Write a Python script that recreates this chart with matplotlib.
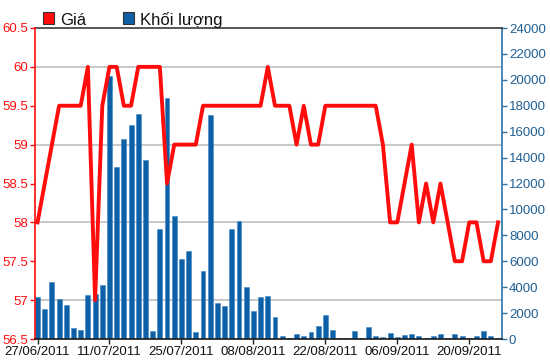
import matplotlib
matplotlib.use("Agg")
import matplotlib.pyplot as plt
from matplotlib.patches import Rectangle
from matplotlib.ticker import MultipleLocator, FixedLocator

# ---- data ----
tick_labels = ["27/06/2011", "11/07/2011", "25/07/2011", "08/08/2011",
               "22/08/2011", "06/09/2011", "20/09/2011"]
tick_index = [0, 10, 20, 30, 40, 50, 60]

price = [58, 58.5, 59, 59.5, 59.5, 59.5, 59.5, 60, 57, 59.5,
         60, 60, 59.5, 59.5, 60, 60, 60, 60, 58.5, 59,
         59, 59, 59, 59.5, 59.5, 59.5, 59.5, 59.5, 59.5, 59.5,
         59.5, 59.5, 60, 59.5, 59.5, 59.5, 59, 59.5, 59, 59,
         59.5, 59.5, 59.5, 59.5, 59.5, 59.5, 59.5, 59.5, 59, 58,
         58, 58.5, 59, 58, 58.5, 58, 58.5, 58, 57.5, 57.5,
         58, 58, 57.5, 57.5, 58]

volume = [3250, 2300, 4400, 3050, 2650, 850, 720, 3420, 3500, 4200,
          20300, 13300, 15400, 16500, 17400, 13800, 650, 8500, 18600, 9500,
          6200, 6800, 570, 5250, 17300, 2750, 2580, 8520, 9100, 4020,
          2180, 3230, 3320, 1710, 270, 100, 350, 270, 530, 1030,
          1890, 710, 100, 90, 640, 90, 930, 260, 170, 450,
          170, 290, 360, 260, 100, 200, 360, 100, 360, 200,
          90, 260, 600, 200, 100]

legend_labels = ["Giá", "Khối lượng"]

# ---- style ----
RED = "#ff0d0d"
BLUE = "#0d5fa6"
AXBLUE = "#2a72a8"
FONT = "Liberation Sans"
plt.rcParams["font.family"] = [FONT, "DejaVu Sans"]

W, H = 550, 364
fig = plt.figure(figsize=(W / 100, H / 100), dpi=100)
fig.patch.set_facecolor("white")
L, R, T, B = 35, 502, 28, 339
rect = [L / W, (H - B) / H, (R - L) / W, (B - T) / H]

ax_p = fig.add_axes(rect)
ax_v = ax_p.twinx()
ax_v.set_zorder(0)
ax_p.set_zorder(1)
ax_p.patch.set_visible(False)

x = list(range(len(price)))

# volume bars (right axis)
ax_v.bar(x, volume, width=0.68, color=BLUE, edgecolor="#3c87c6", linewidth=0.4, zorder=2)
ax_v.set_ylim(0, 24000)
ax_v.yaxis.set_major_locator(MultipleLocator(2000))
ax_v.yaxis.set_minor_locator(FixedLocator(list(range(0, 24001, 3000))))
ax_v.grid(which="minor", axis="y", color="#c8c8c8", linewidth=1.4, zorder=0)
ax_v.set_axisbelow(True)
ax_v.tick_params(axis="y", which="major", colors=AXBLUE, labelcolor="#1f5f94",
                 direction="out", length=3.5, width=1, labelsize=9.5, pad=1.5)
ax_v.tick_params(axis="y", which="minor", length=0)
for s in ["left", "bottom"]:
    ax_v.spines[s].set_visible(False)
ax_v.spines["right"].set_color(AXBLUE)
ax_v.spines["right"].set_linewidth(1.2)
ax_v.spines["top"].set_color("#3a3a3a")
ax_v.spines["top"].set_linewidth(1.2)

# price line (left axis)
ax_p.plot(x, price, color=RED, linewidth=2.8, solid_joinstyle="round", zorder=3)
ax_p.set_ylim(56.5, 60.5)
ax_p.set_yticks([56.5, 57, 57.5, 58, 58.5, 59, 59.5, 60, 60.5])
ax_p.set_yticklabels(["56.5", "57", "57.5", "58", "58.5", "59", "59.5", "60", "60.5"])
ax_p.tick_params(axis="y", colors=RED, labelcolor=RED, direction="out",
                 length=3.5, width=1, labelsize=9.5, pad=1.5)
ax_p.set_xlim(-0.35, 64.55)
ax_p.set_xticks(tick_index)
ax_p.set_xticklabels(tick_labels)
ax_p.tick_params(axis="x", colors="#222222", labelcolor="#111111", direction="out",
                 length=3.5, width=1, labelsize=9.5, pad=1.5)
for s in ["top", "right"]:
    ax_p.spines[s].set_visible(False)
ax_p.spines["left"].set_color(RED)
ax_p.spines["left"].set_linewidth(1.2)
ax_p.spines["bottom"].set_color("#1a1a1a")
ax_p.spines["bottom"].set_linewidth(1.2)

# legend at top
def legend_item(x0, color, label):
    fig.patches.append(Rectangle((x0 / W, (H - 24) / H), 11 / W, 12 / H,
                                 transform=fig.transFigure, facecolor=color,
                                 edgecolor="#333333", linewidth=0.8))
    fig.text((x0 + 17) / W, (H - 25) / H, label, fontsize=12, color="#111111",
             ha="left", va="baseline")

legend_item(43, RED, legend_labels[0])
legend_item(123, BLUE, legend_labels[1])

fig.savefig("out.png", dpi=100)
